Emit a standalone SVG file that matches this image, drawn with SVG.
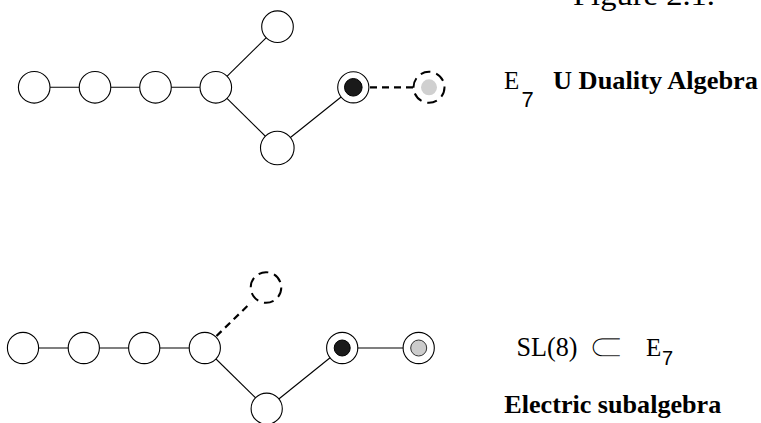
<svg xmlns="http://www.w3.org/2000/svg" width="761" height="423" viewBox="0 0 761 423">
<style>
.n{fill:#fff;stroke:#000;stroke-width:1.1}
.dn{fill:#fff;stroke:#000;stroke-width:2;stroke-dasharray:10 6}
.e{stroke:#000;stroke-width:1.1;fill:none}
.de{stroke:#000;stroke-width:2.2;stroke-dasharray:7 5;fill:none}
.blk{fill:#1a1a1a;stroke:#000;stroke-width:1}
.gry{fill:#cccccc;stroke:#333;stroke-width:1}
.rm{font-family:"Liberation Serif",serif;fill:#000}
.bd{font-family:"Liberation Serif",serif;font-weight:bold;fill:#000}
.ss{font-family:"Liberation Sans",sans-serif;fill:#000}
</style>
<rect width="761" height="423" fill="#fff"/>
<g id="connectors">
<line class="e" x1="34" y1="87.3" x2="95" y2="87.3"/>
<line class="e" x1="95" y1="87.3" x2="155.5" y2="87.3"/>
<line class="e" x1="155.5" y1="87.3" x2="215.8" y2="87.3"/>
<line class="e" x1="215.8" y1="87.3" x2="277.5" y2="26.7"/>
<line class="e" x1="215.8" y1="87.3" x2="277.3" y2="148"/>
<line class="e" x1="277.3" y1="148" x2="353.3" y2="87.3"/>
<line class="de" x1="370" y1="87.3" x2="413" y2="87.3"/>
<line class="e" x1="23" y1="348" x2="83.8" y2="348"/>
<line class="e" x1="83.8" y1="348" x2="144.2" y2="348"/>
<line class="e" x1="144.2" y1="348" x2="204.8" y2="348"/>
<line class="de" x1="216.5" y1="336" x2="251" y2="302.5" stroke-dasharray="8 5"/>
<line class="e" x1="204.8" y1="348" x2="266.7" y2="408.7"/>
<line class="e" x1="266.7" y1="408.7" x2="342.2" y2="348"/>
<line class="e" x1="342.2" y1="348" x2="418.7" y2="348"/>
</g>
<g id="t1"><circle class="n" cx="34.2" cy="87.3" r="15.8"/></g>
<g id="t2"><circle class="n" cx="95" cy="87.3" r="15.8"/></g>
<g id="t3"><circle class="n" cx="155.5" cy="87.3" r="15.8"/></g>
<g id="t4"><circle class="n" cx="215.8" cy="87.3" r="15.8"/></g>
<g id="t5"><circle class="n" cx="277.5" cy="26.7" r="15.8"/></g>
<g id="t6"><circle class="n" cx="277.3" cy="148" r="16.8"/></g>
<g id="t7"><circle class="n" cx="353.3" cy="87.3" r="15.6"/><circle class="blk" cx="353.3" cy="87.3" r="8.8"/></g>
<g id="t8"><circle class="dn" cx="429" cy="87.3" r="15.5"/><circle cx="429" cy="87.3" r="8" fill="#d0d0d0"/></g>
<g id="b1"><circle class="n" cx="23" cy="348" r="15.6"/></g>
<g id="b2"><circle class="n" cx="83.8" cy="348" r="15.6"/></g>
<g id="b3"><circle class="n" cx="144.2" cy="348" r="15.6"/></g>
<g id="b4"><circle class="n" cx="204.8" cy="348" r="15.6"/></g>
<g id="b5"><circle class="dn" cx="266" cy="287.5" r="15.3"/></g>
<g id="b6"><circle class="n" cx="266.7" cy="408.7" r="15.6"/></g>
<g id="b7"><circle class="n" cx="342.2" cy="348" r="15.6"/><circle class="blk" cx="342.2" cy="348" r="8"/></g>
<g id="b8"><circle class="n" cx="418.7" cy="348" r="15.6"/><circle class="gry" cx="418.7" cy="348" r="8"/></g>
<g id="labels">
<text class="rm" x="573" y="5" font-size="30" textLength="142" lengthAdjust="spacingAndGlyphs">Figure 2.1.</text>
<text class="rm" x="504" y="89.3" font-size="25">E</text>
<text class="ss" x="521.5" y="106.7" font-size="22">7</text>
<text class="bd" x="553" y="89.3" font-size="26" textLength="205" lengthAdjust="spacingAndGlyphs">U Duality Algebra</text>
<text class="rm" x="516.5" y="356" font-size="27" textLength="61" lengthAdjust="spacingAndGlyphs">SL(8)</text>
<text transform="translate(587,361) scale(1.15,1.08)" font-family="DejaVu Sans,sans-serif" font-size="40" fill="#000" stroke="#fff" stroke-width="1.8">⊂</text>
<text class="rm" x="646" y="356" font-size="25">E</text>
<text class="ss" x="662" y="365" font-size="20">7</text>
<text class="bd" x="504.3" y="413.3" font-size="26" textLength="217" lengthAdjust="spacingAndGlyphs">Electric subalgebra</text>
</g>
</svg>
